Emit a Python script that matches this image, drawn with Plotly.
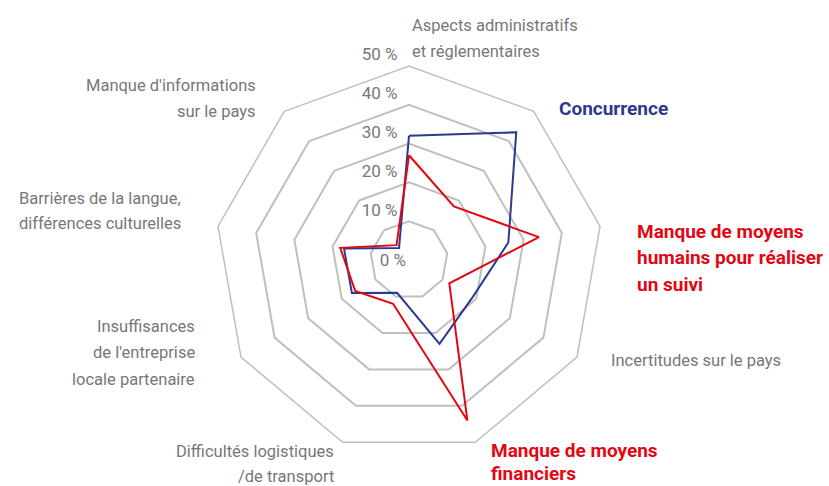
import plotly.graph_objects as go

W, H = 829, 486

# ---------------- data ----------------
categories = [
    "Aspects administratifs et réglementaires",
    "Concurrence",
    "Manque de moyens humains pour réaliser un suivi",
    "Incertitudes sur le pays",
    "Manque de moyens financiers",
    "Difficultés logistiques /de transport",
    "Insuffisances de l'entreprise locale partenaire",
    "Barrières de la langue, différences culturelles",
    "Manque d'informations sur le pays",
]
label_lines = [
    ["Aspects administratifs", "et réglementaires"],
    ["Concurrence"],
    ["Manque de moyens", "humains pour réaliser", "un suivi"],
    ["Incertitudes sur le pays"],
    ["Manque de moyens", "financiers"],
    ["Difficultés logistiques", "/de transport"],
    ["Insuffisances", "de l'entreprise", "locale partenaire"],
    ["Barrières de la langue,", "différences culturelles"],
    ["Manque d'informations", "sur le pays"],
]
series_blue = [32, 43, 26, 19, 23, 9, 17, 17, 4]
series_red = [27, 18, 34, 12, 44, 12, 16, 18, 5]
radial_ticks = [0, 10, 20, 30, 40, 50]
radial_ticktext = ["0 %"] + [f"{v} %\u00a0\u00a0<br>\u00a0" for v in radial_ticks[1:]]

# ---------------- styles ----------------
BLUE = "#2B3990"
RED = "#E30613"
GRID = "#BFBFBF"
TXT = "#777777"
FONT = "Roboto, 'Noto Sans', sans-serif"

# label placement (pixels): anchor x, first-line y, xanchor, colour, bold, line gap
label_pos = [
    (410, 26, "left", TXT, False, 25.5),
    (557, 108, "left", BLUE, True, 25.5),
    (635, 231, "left", RED, True, 26.5),
    (609, 360, "left", TXT, False, 25.5),
    (489, 450, "left", RED, True, 23.5),
    (336, 451, "right", TXT, False, 25),
    (197, 326, "right", TXT, False, 26.5),
    (183, 198, "right", TXT, False, 25.5),
    (258, 85, "right", TXT, False, 26.5),
]

cx, cy, R = 409, 260, 194

fig = go.Figure()
for vals, col, name in [(series_blue, BLUE, "Série 1"), (series_red, RED, "Série 2")]:
    fig.add_trace(go.Scatterpolar(
        r=vals + vals[:1],
        theta=categories + categories[:1],
        mode="lines",
        line=dict(color=col, width=2),
        name=name,
        showlegend=False,
        hoverinfo="skip",
    ))

annotations = []
for lines, (x, y0, xa, col, bold, gap) in zip(label_lines, label_pos):
    for i, ln in enumerate(lines):
        y = y0 + i * gap
        annotations.append(dict(
            text=f"<b>{ln}</b>" if bold else ln,
            x=x / W, y=1 - y / H, xref="paper", yref="paper",
            xanchor=xa, yanchor="middle", showarrow=False,
            font=dict(family=FONT, size=19 if bold else 16.5, color=col),
        ))

fig.update_layout(
    width=W, height=H,
    margin=dict(l=0, r=0, t=0, b=0),
    paper_bgcolor="white",
    plot_bgcolor="white",
    showlegend=False,
    annotations=annotations,
    polar=dict(
        domain=dict(x=[(cx - R) / W, (cx + R) / W],
                    y=[(H - cy - R) / H, (H - cy + R) / H]),
        gridshape="linear",
        bgcolor="rgba(0,0,0,0)",
        radialaxis=dict(
            range=[0, 50],
            tickvals=radial_ticks,
            ticktext=radial_ticktext,
            angle=90,
            tickangle=90,
            side="counterclockwise",
            showline=False,
            ticks="",
            gridcolor=GRID,
            gridwidth=1.5,
            tickfont=dict(family=FONT, size=17, color=TXT),
        ),
        angularaxis=dict(
            rotation=90,
            direction="clockwise",
            showgrid=False,
            showticklabels=False,
            ticks="",
            showline=True,
            linecolor=GRID,
            linewidth=1.5,
        ),
    ),
)

fig.write_html("out.html",
               config={"displayModeBar": False},
               post_script="document.body.style.margin='0px';")
